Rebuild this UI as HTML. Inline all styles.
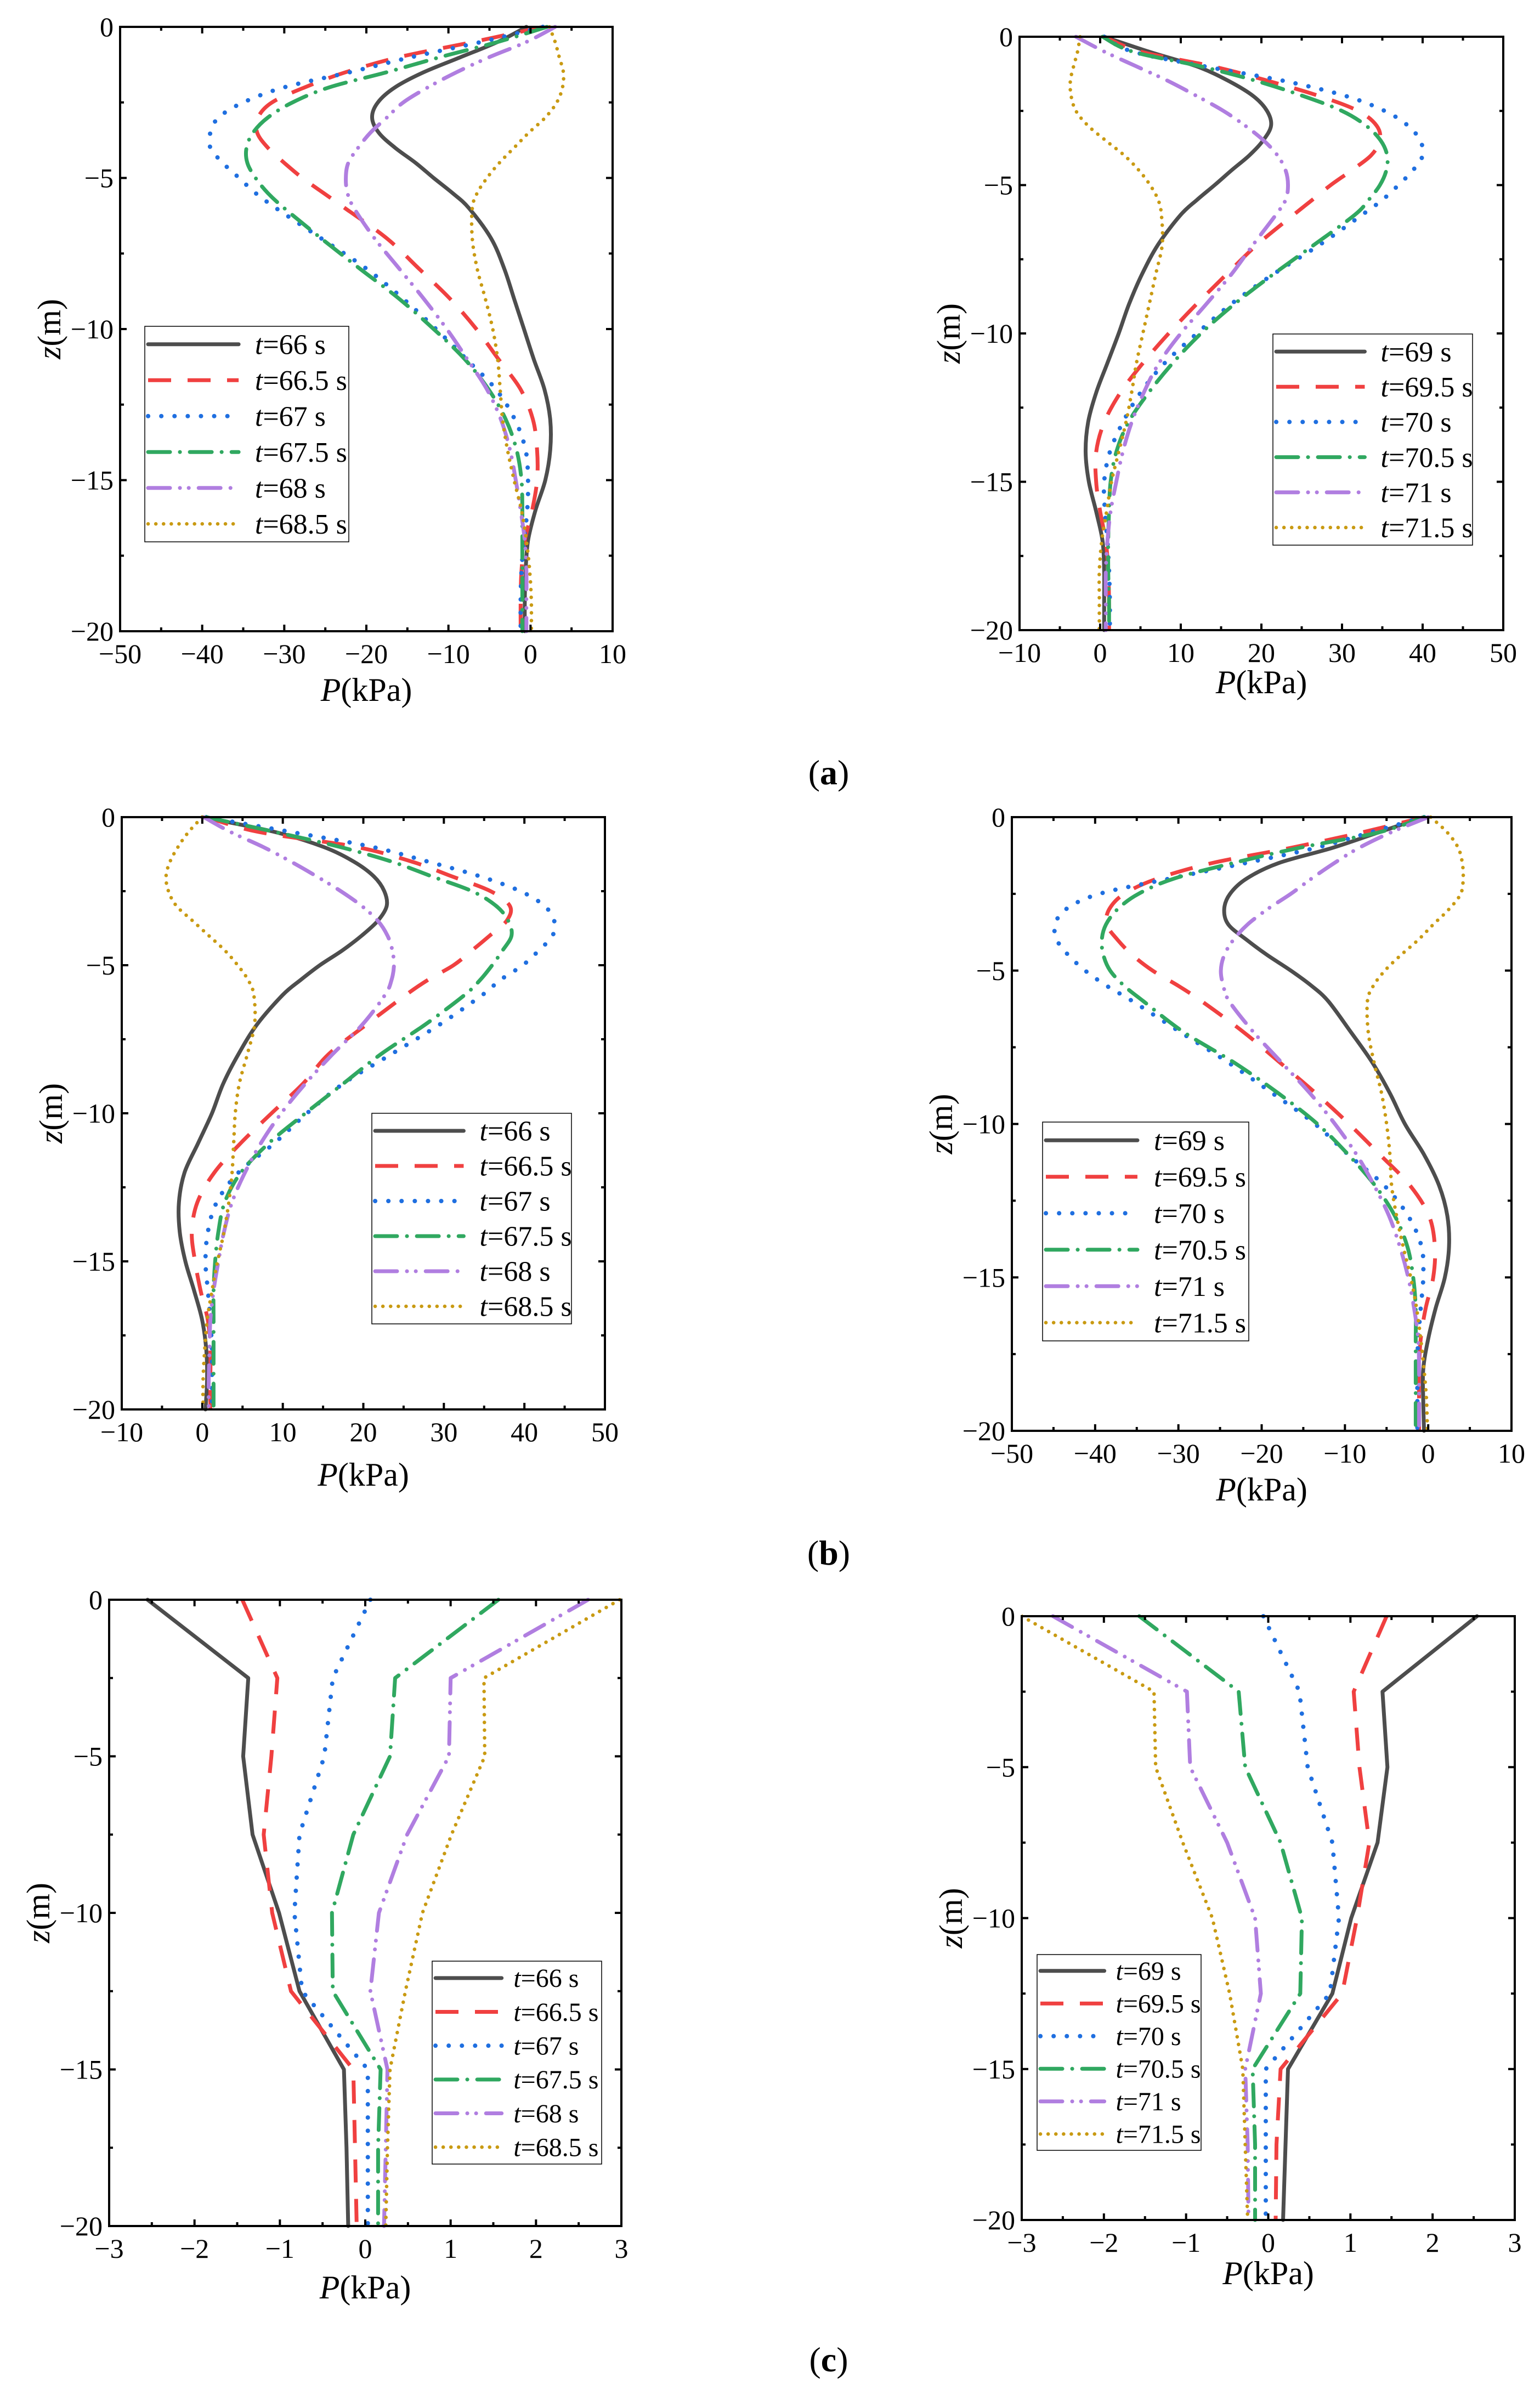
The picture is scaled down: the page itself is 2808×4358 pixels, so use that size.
<!DOCTYPE html>
<html><head><meta charset="utf-8">
<style>
html,body{margin:0;padding:0;background:#fff;}
svg{display:block;font-family:"Liberation Serif",serif;}
</style></head>
<body>
<svg id="fig" width="2808" height="4358" viewBox="0 0 2808 4358" xmlns="http://www.w3.org/2000/svg">
<rect x="0" y="0" width="2808" height="4358" fill="#fff"/>
<text x="1511" y="1430" font-size="64" text-anchor="middle">(<tspan font-weight="bold">a</tspan>)</text>
<text x="1511" y="2853" font-size="64" text-anchor="middle">(<tspan font-weight="bold">b</tspan>)</text>
<text x="1511" y="4324" font-size="64" text-anchor="middle">(<tspan font-weight="bold">c</tspan>)</text>
</svg>
<script>
// ---- data ----
const zAB = [0,-0.5,-1,-1.5,-2,-2.5,-3,-3.5,-4,-4.5,-5,-5.5,-6,-7,-8,-9,-10,-11,-12,-13,-14,-15,-16,-17,-18,-19,-20];
const zC = [0,-2.5,-5,-7.5,-10,-12.5,-15,-17.5,-20];
const labelsLeft = ["66 s","66.5 s","67 s","67.5 s","68 s","68.5 s"];
const labelsRight = ["69 s","69.5 s","70 s","70.5 s","71 s","71.5 s"];
const xTicksNeg = [-50,-40,-30,-20,-10,0,10];
const xTicksPos = [-10,0,10,20,30,40,50];
const xTicksC = [-3,-2,-1,0,1,2,3];
const yTicks = [0,-5,-10,-15,-20];

// panel a-left
const a1_s0 = [-0.5,-4,-8.5,-13,-16.5,-18.6,-19.3,-18.5,-16.5,-14,-11.8,-9.5,-7.5,-4.8,-3.2,-2,-0.8,0.4,1.7,2.4,2.4,1.8,0.6,-0.3,-0.6,-0.7,-0.7];
const a1_s1 = [1.5,-7,-16,-22.5,-27.5,-31.5,-33.2,-33.3,-32,-30,-27.8,-25.2,-22.6,-17.5,-13.6,-9.8,-6.6,-3.9,-1.2,0.3,0.8,0.8,0.2,-0.7,-1.1,-1.2,-1.2];
const a1_s2 = [1.5,-6,-14.5,-22,-30,-35,-38,-39,-39,-37.5,-35.5,-33.5,-31,-25.5,-20,-15.5,-11.5,-7.8,-4.2,-1.9,-0.6,-0.3,-0.4,-0.8,-1.1,-1.2,-1.2];
const a1_s3 = [2,-4,-11,-17.5,-24.5,-29,-32,-33.8,-34.6,-34.5,-33.5,-32,-30,-25.5,-20.8,-16,-11.8,-8,-5.1,-3,-1.7,-1.1,-1,-1,-1,-1,-1];
const a1_s4 = [3,-0.5,-5,-9,-12.5,-15.5,-17.5,-19.5,-21,-22.2,-22.5,-22.3,-21.5,-19,-16,-13,-10.2,-7.7,-5.3,-3.6,-2.5,-1.8,-1.2,-0.7,-0.5,-0.5,-0.5];
const a1_s5 = [2.3,3,3.5,4,3.9,3.2,1.8,-0.2,-2,-3.8,-5.3,-6.5,-7.1,-7.1,-6.5,-5.5,-4.6,-4,-3.7,-3.4,-2.8,-2,-1.1,-0.5,-0.1,0.1,0.1];
// panel a-right
const a2_s0 = [0.5,6,12,16,19,20.7,21.2,20.2,18.5,16.3,14.2,12,10,7.2,5.2,3.6,2.3,0.9,-0.5,-1.5,-1.8,-1.4,-0.5,0.3,0.5,0.5,0.5];
const a2_s1 = [0.5,5,14,21,27.2,32,34.3,34.7,33.6,31.2,28.6,26.3,24,19.5,15.7,12,8.5,5.3,2.5,0.5,-0.5,-0.5,0,0.7,1,1.1,1.1];
const a2_s2 = [0.5,4,13,23,30.5,35.3,38.2,39.7,40,38.8,37,35,32.5,27.3,21.5,16.3,12,8,5,2.8,1.2,0.5,0.6,0.9,1.1,1.2,1.2];
const a2_s3 = [0.3,4,12.5,19.5,25.2,30,33,34.8,35.6,35.5,34.7,33.3,31.6,26.6,21.5,16.7,12.5,9,6,3.5,2,1.3,1.1,1,1,1.1,1.1];
const a2_s4 = [-3,0.5,4.5,8.5,12,15.3,18,20.3,22,23,23.3,23,21.8,19,16.3,13.2,10,7.3,5.4,3.9,2.8,2,1.3,0.9,0.7,0.7,0.7];
const a2_s5 = [-2.5,-2.8,-3.3,-3.7,-3.6,-3,-1.5,0.7,3,4.8,6.2,7.2,7.6,7.7,6.9,6.1,5.3,4.5,3.9,3.2,2.3,1.4,0.8,0.2,-0.1,-0.1,-0.1];
// panel b-left
const b1_s0 = [0,9,15,18.8,21.3,22.6,22.9,21.8,19.8,17.4,14.6,12.2,10,6.8,4.5,2.6,1.2,-0.5,-2.2,-2.9,-2.8,-2.1,-1,0,0.5,0.6,0.4];
const b1_s1 = [0.5,7,19,26,31,35.8,38.2,37.8,35.7,33.5,31.2,28,25.3,20.4,15.7,12.5,8.6,4.8,1.5,-0.6,-1.3,-0.9,-0.2,0.7,1,1,1];
const b1_s2 = [0.5,11,21,28,34.5,39.5,42.5,43.7,43.5,41.8,39.8,37,34.8,29.5,23.5,17.5,13,9,4.5,1.8,0.7,0.4,0.7,1,1.2,1.2,1.2];
const b1_s3 = [0.5,9,17,23.5,28.5,33.5,36.5,38,38.4,37.3,36,34.5,32.6,27.7,22.2,17.5,12.8,8.3,4.8,2.8,2,1.6,1.4,1.4,1.4,1.4,1.4];
const b1_s4 = [0.2,3.5,7.5,11,14.2,17.2,19.8,21.8,23,23.6,23.8,23.5,22.7,19.9,16.2,12.8,9.8,7.3,5.3,3.7,2.7,2,1.4,1,0.9,0.8,0.8];
const b1_s5 = [0,-1.7,-3,-4,-4.5,-4.2,-3.2,-1.2,0.8,2.8,4.4,5.7,6.4,6.5,5.6,4.6,4.1,3.9,3.7,3.3,2.7,1.9,1.2,0.6,0.3,0.1,0.1];
// panel b-right
const b2_s0 = [-0.5,-6,-11.5,-18,-21.8,-23.8,-24.5,-24,-21.8,-19.3,-16.5,-14,-12,-9.3,-6.7,-4.6,-2.8,-0.5,1.3,2.3,2.5,2,0.9,0,-0.6,-0.6,-0.5];
const b2_s1 = [-0.5,-8,-16.5,-26,-32.5,-36.5,-38.3,-38.6,-37.3,-35.5,-33.1,-30,-27.2,-22.2,-17.8,-13.5,-9.5,-5.8,-2.2,0.1,0.8,0.6,-0.3,-0.9,-1.1,-1.1,-1.1];
const b2_s2 = [-0.5,-7,-13.5,-22,-31,-39.5,-43.5,-44.8,-44.6,-43.2,-41.2,-38.6,-35.5,-29.8,-24,-18.7,-13.6,-9.6,-5.3,-2.4,-0.8,-0.6,-0.9,-1.2,-1.3,-1.3,-1.3];
const b2_s3 = [-0.5,-6,-15.5,-23.5,-30.5,-34.8,-37.3,-38.7,-39.2,-39,-38.2,-36.5,-34.2,-29.4,-23.3,-18,-13.3,-9.6,-6.4,-4,-2.5,-1.8,-1.5,-1.5,-1.5,-1.5,-1.5];
const b2_s4 = [0,-4.5,-8.3,-11.3,-14,-16.5,-19.3,-21.7,-23.4,-24.5,-24.9,-24.6,-23.9,-21,-17.6,-14.2,-11.2,-8.6,-6.5,-4.7,-3.4,-2.4,-1.7,-1.2,-1.1,-1.1,-1.1];
const b2_s5 = [0.3,2.3,3.6,4.1,4.2,3.9,2.5,0.6,-1.2,-3.3,-5.2,-6.6,-7.3,-7.2,-6.5,-5.6,-5,-4.6,-4.4,-3.8,-3,-2.1,-1.4,-0.9,-0.5,-0.2,-0.1];
// panel c-left
const c1_s0 = [-2.55,-1.37,-1.43,-1.32,-1.01,-0.77,-0.25,-0.22,-0.2];
const c1_s1 = [-1.44,-1.03,-1.1,-1.19,-1.09,-0.87,-0.14,-0.12,-0.1];
const c1_s2 = [0.06,-0.38,-0.48,-0.77,-0.83,-0.74,0.03,0.03,0.03];
const c1_s3 = [1.56,0.35,0.29,-0.14,-0.39,-0.38,0.18,0.15,0.15];
const c1_s4 = [2.61,1,0.98,0.49,0.16,0.06,0.26,0.24,0.22];
const c1_s5 = [2.98,1.39,1.4,1.01,0.67,0.47,0.29,0.26,0.24];
// panel c-right
const c2_s0 = [2.54,1.39,1.45,1.33,1.01,0.78,0.24,0.21,0.18];
const c2_s1 = [1.44,1.04,1.11,1.23,1.08,0.9,0.15,0.1,0.09];
const c2_s2 = [-0.06,0.38,0.48,0.78,0.86,0.75,-0.03,-0.03,-0.03];
const c2_s3 = [-1.57,-0.36,-0.28,0.15,0.41,0.39,-0.19,-0.16,-0.16];
const c2_s4 = [-2.62,-0.99,-0.95,-0.5,-0.16,-0.09,-0.28,-0.25,-0.24];
const c2_s5 = [-3,-1.39,-1.37,-1.04,-0.68,-0.47,-0.31,-0.28,-0.25];

// ---- styles ----
const styles = [
 {c:"#4d4d4d", d:"", w:7, cap:"round"},
 {c:"#f04040", d:"42 30", w:7, cap:"butt"},
 {c:"#1f6fe0", d:"0.1 24", w:8, cap:"round"},
 {c:"#30a860", d:"40 18 0.1 18", w:7, cap:"round"},
 {c:"#b07ee0", d:"40 18 0.1 16 0.1 18", w:7, cap:"round"},
 {c:"#c99a12", d:"0.1 14", w:6.5, cap:"round"}
];
const NS="http://www.w3.org/2000/svg";
const svg=document.getElementById('fig');
function mk(tag,attrs,parent){const e=document.createElementNS(NS,tag);for(const k in attrs)e.setAttribute(k,attrs[k]);(parent||svg).appendChild(e);return e;}

const panels=[
 {id:"a-left", x0:219,x1:1117,y0:49,y1:1151, xd:[-50,10], xt:xTicksNeg, minor:5, series:[a1_s0,a1_s1,a1_s2,a1_s3,a1_s4,a1_s5], z:zAB, smooth:true, labels:labelsLeft, leg:[264,595,636,988], lf:[0.46,0.54], fs:52, tOff:107},
 {id:"a-right", x0:1859,x1:2741,y0:67,y1:1149, xd:[-10,50], xt:xTicksPos, minor:5, series:[a2_s0,a2_s1,a2_s2,a2_s3,a2_s4,a2_s5], z:zAB, smooth:true, labels:labelsRight, leg:[2321,609,2685,994], lf:[0.46,0.54], fs:52, tOff:95},
 {id:"b-left", x0:222,x1:1103,y0:1490,y1:2570, xd:[-10,50], xt:xTicksPos, minor:5, series:[b1_s0,b1_s1,b1_s2,b1_s3,b1_s4,b1_s5], z:zAB, smooth:true, labels:labelsLeft, leg:[678,2030,1042,2414], lf:[0.46,0.54], fs:52, tOff:119},
 {id:"b-right", x0:1845,x1:2756,y0:1490,y1:2609, xd:[-50,10], xt:xTicksNeg, minor:5, series:[b2_s0,b2_s1,b2_s2,b2_s3,b2_s4,b2_s5], z:zAB, smooth:true, labels:labelsRight, leg:[1901,2046,2277,2445], lf:[0.46,0.54], fs:52, tOff:107},
 {id:"c-left", x0:199,x1:1133,y0:2917,y1:4059, xd:[-3,3], xt:xTicksC, minor:0.5, series:[c1_s0,c1_s1,c1_s2,c1_s3,c1_s4,c1_s5], z:zC, smooth:false, labels:labelsLeft, leg:[788,3576,1097,3946], lf:[0.41,0.48], fs:48, tOff:112},
 {id:"c-right", x0:1863,x1:2762,y0:2947,y1:4048, xd:[-3,3], xt:xTicksC, minor:0.5, series:[c2_s0,c2_s1,c2_s2,c2_s3,c2_s4,c2_s5], z:zC, smooth:false, labels:labelsRight, leg:[1891,3564,2190,3921], lf:[0.41,0.48], fs:48, tOff:97}
];

function fmt(v){return v<0?"\u2212"+Math.abs(v):String(v);}

panels.forEach(p=>{
 const g=mk('g',{});
 
 
 const X=v=>p.x0+(v-p.xd[0])/(p.xd[1]-p.xd[0])*(p.x1-p.x0);
 const Y=z=>p.y0+(0-z)/20*(p.y1-p.y0);
 const clip=mk('clipPath',{id:'clip-'+p.id},g);
 mk('rect',{x:p.x0,y:p.y0-6,width:p.x1-p.x0,height:p.y1-p.y0+12},clip);
 p.series.forEach((vals,si)=>{
  const pts=vals.map((v,i)=>[X(v),Y(p.z[i])]);
  let d="M"+pts[0][0].toFixed(1)+","+pts[0][1].toFixed(1);
  for(let i=0;i<pts.length-1;i++){
   if(p.smooth){
    const p0=pts[Math.max(0,i-1)],p1=pts[i],p2=pts[i+1],p3=pts[Math.min(pts.length-1,i+2)];
    const c1=[p1[0]+(p2[0]-p0[0])/6,p1[1]+(p2[1]-p0[1])/6];
    const c2=[p2[0]-(p3[0]-p1[0])/6,p2[1]-(p3[1]-p1[1])/6];
    d+=" C"+c1[0].toFixed(1)+","+c1[1].toFixed(1)+" "+c2[0].toFixed(1)+","+c2[1].toFixed(1)+" "+p2[0].toFixed(1)+","+p2[1].toFixed(1);
   } else d+=" L"+pts[i+1][0].toFixed(1)+","+pts[i+1][1].toFixed(1);
  }
  const st=styles[si];
  const path=mk('path',{d:d,fill:"none",stroke:st.c,"stroke-width":st.w,"stroke-dasharray":st.d,"stroke-linecap":st.cap,"stroke-linejoin":"round","clip-path":"url(#clip-"+p.id+")"},g);
  
  
 });
 const fr=mk('rect',{x:p.x0,y:p.y0,width:p.x1-p.x0,height:p.y1-p.y0,fill:"none",stroke:"#000","stroke-width":4},g);
 
 
 const xg=mk('g',{},g);
 
 
 for(let v=p.xd[0]; v<=p.xd[1]+1e-9; v+=p.minor){
  const major=Math.abs(Math.round(v/(p.minor*2))*(p.minor*2)-v)<1e-6;
  const L=major?12:7; const x=X(v);
  mk('line',{x1:x,y1:p.y1,x2:x,y2:p.y1-L,stroke:"#000","stroke-width":4},xg);
  mk('line',{x1:x,y1:p.y0,x2:x,y2:p.y0+L,stroke:"#000","stroke-width":4},xg);
 }
 p.xt.forEach(v=>{
  const t=mk('text',{x:X(v),y:p.y1+58,"font-size":50,"text-anchor":"middle"},xg);
  t.textContent=fmt(v);
  
  
 });
 const yg=mk('g',{},g);
 
 
 for(let z=0; z>=-20; z-=2.5){
  const major=(z%5===0); const L=major?12:7; const y=Y(z);
  mk('line',{x1:p.x0,y1:y,x2:p.x0+L,y2:y,stroke:"#000","stroke-width":4},yg);
  mk('line',{x1:p.x1,y1:y,x2:p.x1-L,y2:y,stroke:"#000","stroke-width":4},yg);
 }
 yTicks.forEach(z=>{
  const t=mk('text',{x:p.x0-12,y:Y(z)+17,"font-size":50,"text-anchor":"end"},yg);
  t.textContent=fmt(z);
  
  
 });
 const xt=mk('text',{x:(p.x0+p.x1)/2,y:p.y1+p.tOff+20,"font-size":60,"text-anchor":"middle"},g);
 xt.innerHTML='<tspan font-style="italic">P</tspan>(kPa)';
 
 
 const cx=p.x0-127, cy=(p.y0+p.y1)/2;
 const yt=mk('text',{x:cx,y:cy+18,"font-size":60,"text-anchor":"middle",transform:"rotate(-90 "+cx+" "+cy+")"},g);
 yt.innerHTML='<tspan font-style="italic">z</tspan>(m)';
 
 
 const [lx0,ly0,lx1,ly1]=p.leg; const lw=lx1-lx0, lh=ly1-ly0;
 const lg=mk('g',{},g);
 
 
 mk('rect',{x:lx0,y:ly0,width:lw,height:lh,fill:"#fff",stroke:"#000","stroke-width":1.5},lg);
 p.labels.forEach((lab,i)=>{
  const y=ly0+(i+0.5)*lh/6;
  const st=styles[i];
  const ent=mk('g',{},lg);
  
  
  mk('line',{x1:lx0+6,y1:y,x2:lx0+lw*p.lf[0],y2:y,stroke:st.c,"stroke-width":st.w,"stroke-dasharray":st.d,"stroke-linecap":st.cap},ent);
  const t=mk('text',{x:lx0+lw*p.lf[1],y:y+p.fs*0.34,"font-size":p.fs},ent);
  t.innerHTML='<tspan font-style="italic">t</tspan>='+lab;
 });
});
</script>
</body></html>
